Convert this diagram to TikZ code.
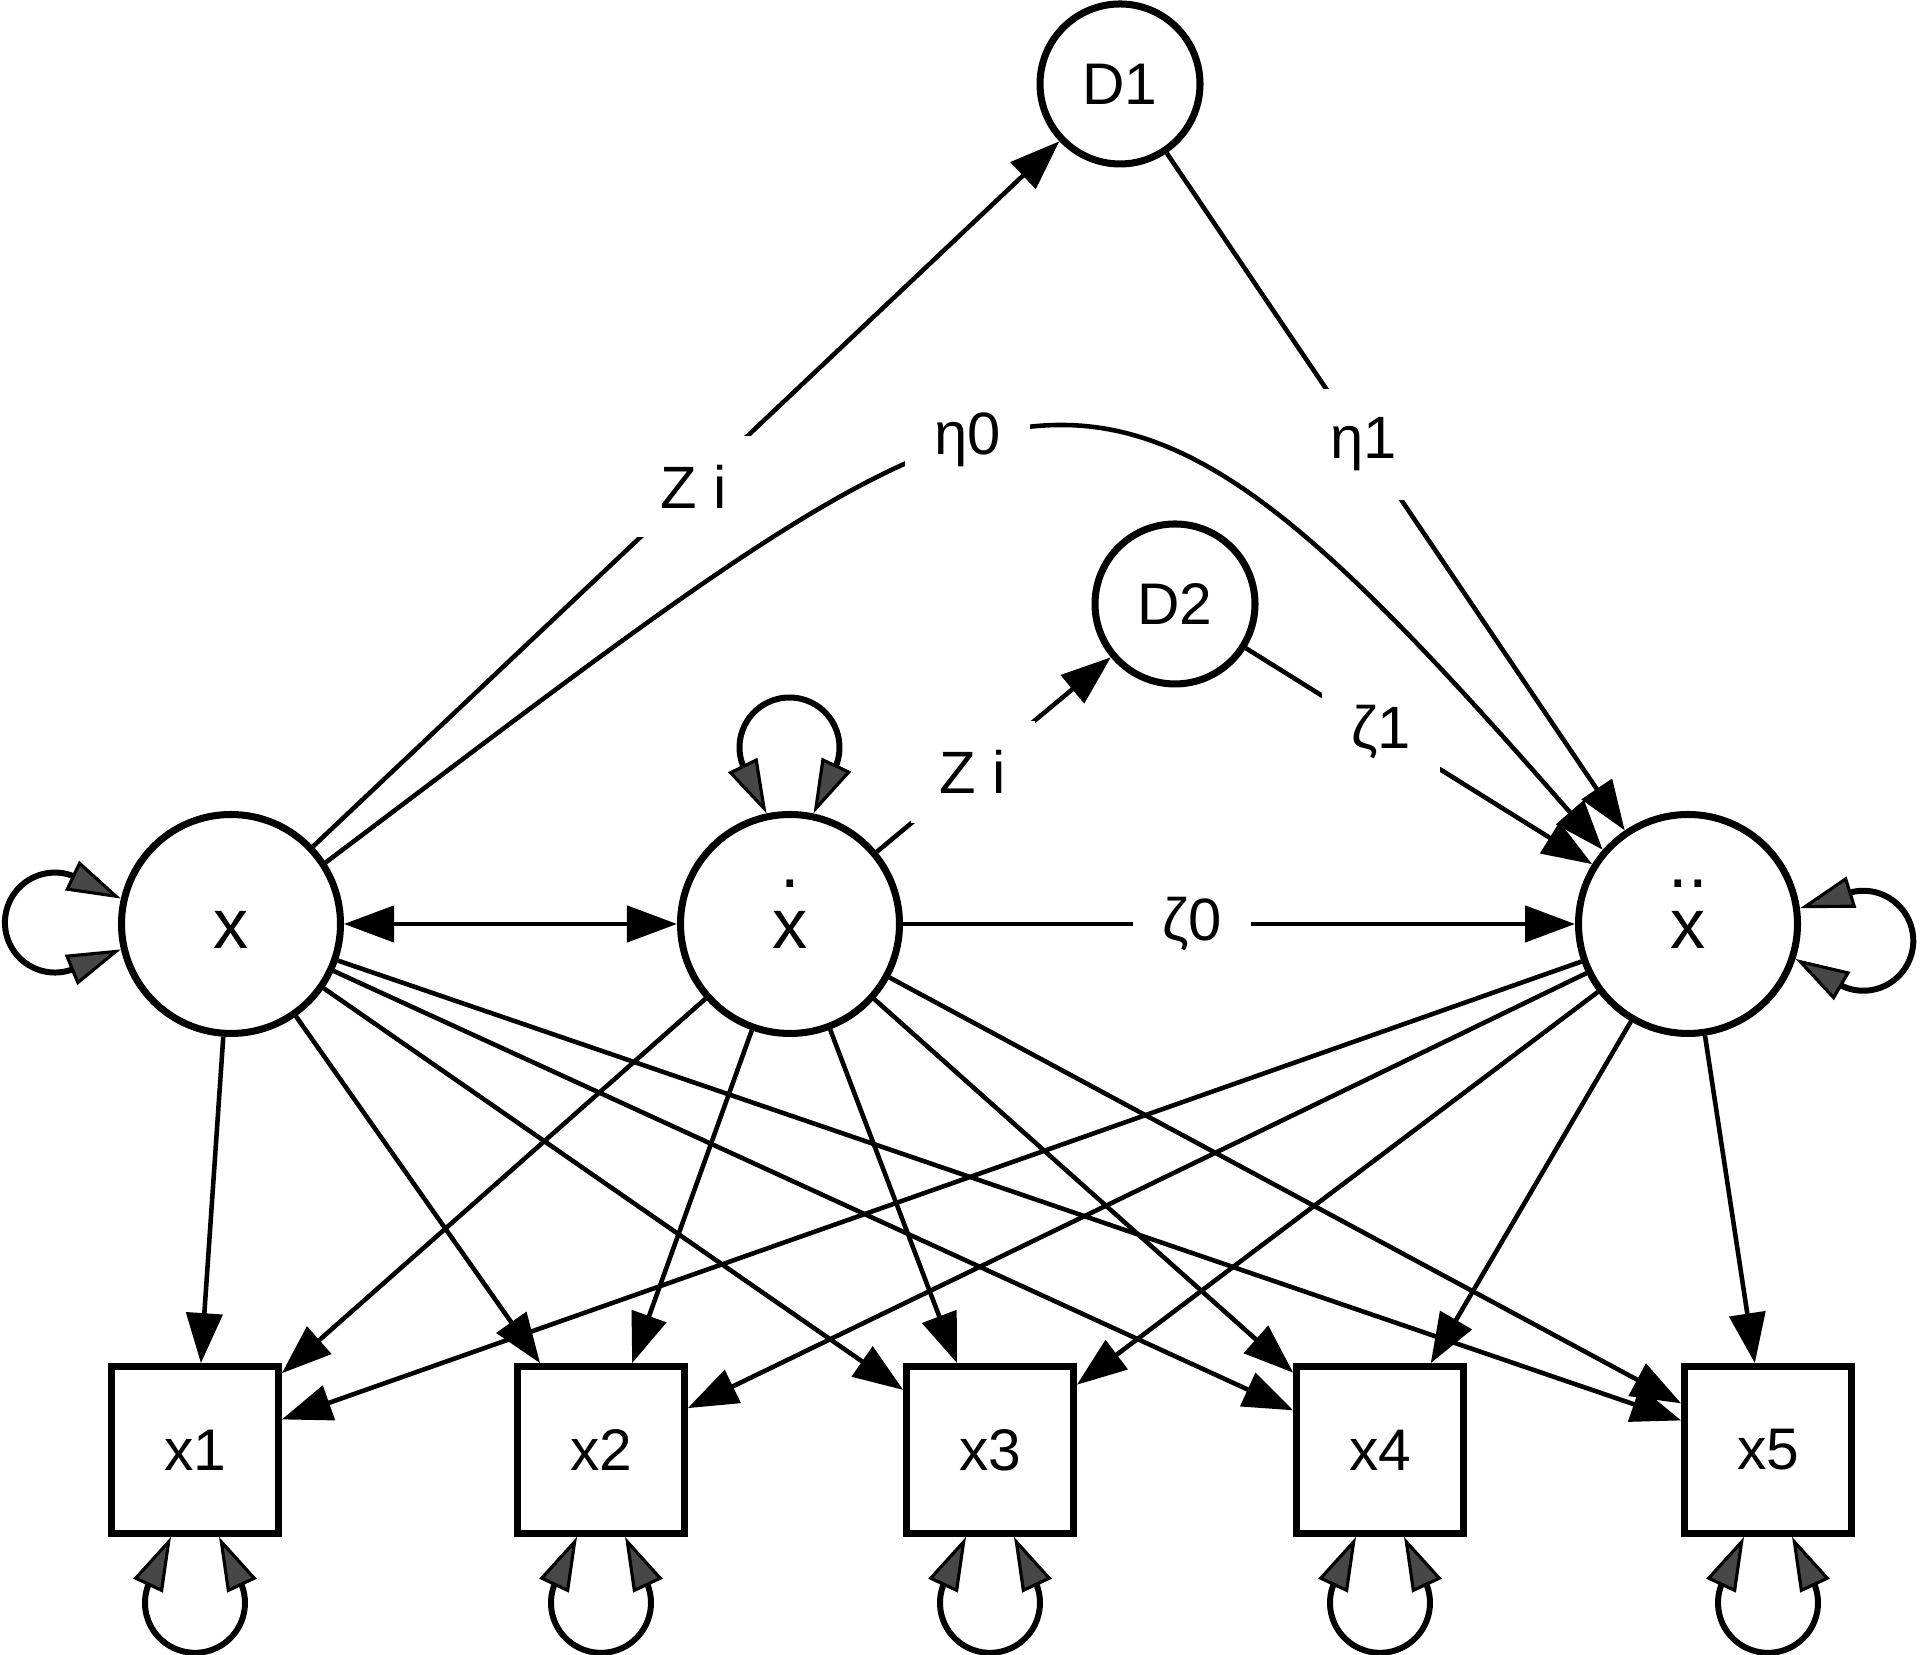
\documentclass[tikz,border=0pt]{standalone}
\usepackage{fontspec}
\setmainfont{Liberation Sans}
\usetikzlibrary{arrows.meta,bending}

\newcommand{\dotx}{\ooalign{x\cr\hidewidth\raisebox{0.87em}{.}\hidewidth\cr}}
\newcommand{\ddotx}{\ooalign{x\cr\hidewidth\raisebox{0.87em}{..}\hidewidth\cr}}

\tikzset{
  >={Triangle[length=5mm,width=3.6mm]},
  looptip/.tip={Triangle[length=5.4mm,width=3.2mm,fill=black!72,line width=0.9pt]},
  latent/.style={circle,draw,line width=2pt,minimum size=2.19cm,inner sep=0pt,
    font=\fontsize{20}{24}\selectfont,text height=0.5cm,text depth=0cm},
  resid/.style={circle,draw,line width=2pt,minimum size=1.6cm,inner sep=0pt,
    font=\fontsize{16.7}{20}\selectfont},
  manifest/.style={rectangle,draw,line width=1.9pt,minimum size=1.67cm,inner sep=0pt,
    font=\fontsize{16.7}{20}\selectfont},
  link/.style={line width=1.3pt},
  lbl/.style={fill=white,inner sep=0.29cm,font=\fontsize{17}{20}\selectfont},
  selfloop/.style={line width=1.7pt,arrows={looptip-looptip}},
}

\begin{document}
\begin{tikzpicture}
\useasboundingbox (0,0) rectangle (19.2,16.55);

% latent nodes
\node[latent] (X) at (2.31,7.31) {x};
\node[latent] (Xd) at (7.90,7.31) {\dotx};
\node[latent] (Xdd) at (16.88,7.31) {\ddotx};
\node[resid] (D1) at (11.20,15.71) {D1};
\node[resid] (D2) at (11.75,10.51) {D2};

% observed
\node[manifest] (x1) at (1.95,2.05) {x1};
\node[manifest] (x2) at (6.01,2.05) {x2};
\node[manifest] (x3) at (9.90,2.05) {x3};
\node[manifest] (x4) at (13.80,2.05) {x4};
\node[manifest] (x5) at (17.68,2.05) {x5};

% top part
\draw[link,<->] (X) -- (Xd);
\draw[link,->] (Xd) -- node[lbl,pos=0.43] {ζ0} (Xdd);
\draw[link,->] (X) -- node[lbl,pos=0.51] {Z i} (D1);
\draw[link,->] (D1) -- node[lbl,pos=0.43] {η1} (Xdd);
\draw[link,->] (Xd) -- node[lbl,pos=0.41] {Z i} (D2);
\draw[link,->] (D2) -- node[lbl,pos=0.39] {ζ1} (Xdd);
\draw[link,->] (X.33) to[out=37,in=131,out looseness=1.85,in looseness=1.57]
  node[lbl,pos=0.42] {η0} (Xdd.139);

% loadings
\draw[link,->] (X) -- (x1);
\draw[link,->] (X) -- (x2);
\draw[link,->] (X) -- (x3);
\draw[link,->] (X) -- (x4);
\draw[link,->] (X) -- (x5);
\draw[link,->] (Xd) -- (x1);
\draw[link,->] (Xd) -- (x2);
\draw[link,->] (Xd) -- (x3);
\draw[link,->] (Xd) -- (x4);
\draw[link,->] (Xd) -- (x5);
\draw[link,->] (Xdd) -- (x1);
\draw[link,->] (Xdd) -- (x2);
\draw[link,->] (Xdd) -- (x3);
\draw[link,->] (Xdd) -- (x4);
\draw[link,->] (Xdd) -- (x5);

% variances
\draw[selfloop] (X.167) -- ++(154.8:0.54) arc[start angle=70,end angle=290,radius=0.5] -- (X.193);
\draw[selfloop] (Xd.78) -- ++(64.8:0.54) arc[start angle=340,end angle=560,radius=0.5] -- (Xd.102);
\draw[selfloop] (Xdd.-18) -- ++(329.8:0.54) arc[start angle=245,end angle=465,radius=0.5] -- (Xdd.8);
\draw[selfloop] ([xshift=-0.24cm]x1.south) -- ++(-0.23,-0.489) arc[start angle=160,end angle=380,radius=0.5] -- ([xshift=0.24cm]x1.south);
\draw[selfloop] ([xshift=-0.24cm]x2.south) -- ++(-0.23,-0.489) arc[start angle=160,end angle=380,radius=0.5] -- ([xshift=0.24cm]x2.south);
\draw[selfloop] ([xshift=-0.24cm]x3.south) -- ++(-0.23,-0.489) arc[start angle=160,end angle=380,radius=0.5] -- ([xshift=0.24cm]x3.south);
\draw[selfloop] ([xshift=-0.24cm]x4.south) -- ++(-0.23,-0.489) arc[start angle=160,end angle=380,radius=0.5] -- ([xshift=0.24cm]x4.south);
\draw[selfloop] ([xshift=-0.24cm]x5.south) -- ++(-0.23,-0.489) arc[start angle=160,end angle=380,radius=0.5] -- ([xshift=0.24cm]x5.south);

\end{tikzpicture}
\end{document}
